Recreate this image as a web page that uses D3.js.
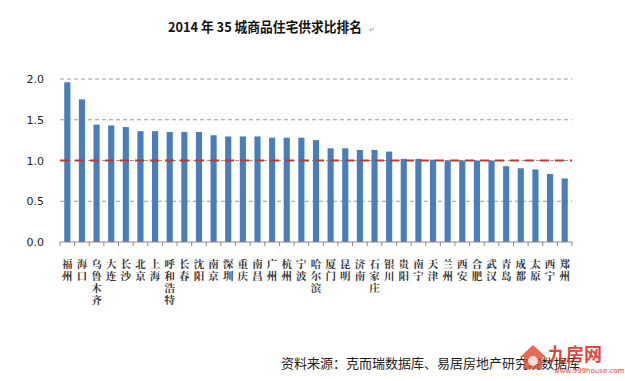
<!DOCTYPE html>
<html>
<head>
<meta charset="utf-8">
<script src="https://cdn.jsdelivr.net/npm/d3@7"></script>
<style>
  body { margin: 0; background: #fff; }
  svg { display: block; }
</style>
</head>
<body>
<div id="container"></div>
<script>
// 35 城 名称与供求比
const cities = ["福州", "海口", "乌鲁木齐", "大连", "长沙", "北京", "上海", "呼和浩特", "长春", "沈阳",
  "南京", "深圳", "重庆", "南昌", "广州", "杭州", "宁波", "哈尔滨", "厦门", "昆明",
  "济南", "石家庄", "银川", "贵阳", "南宁", "天津", "兰州", "西安", "合肥", "武汉",
  "青岛", "成都", "太原", "西宁", "郑州"];
const ratios = [1.96, 1.75, 1.44, 1.43, 1.41, 1.36, 1.36, 1.35, 1.35, 1.35,
  1.31, 1.295, 1.295, 1.295, 1.28, 1.28, 1.28, 1.25, 1.15, 1.15,
  1.13, 1.13, 1.11, 1.02, 1.02, 1.01, 1.0, 1.0, 1.0, 1.0,
  0.93, 0.905, 0.89, 0.835, 0.78];
const yTicks = [0, 0.5, 1.0, 1.5, 2.0];
const baseline = 1.0; // 供求平衡线

const width = 625, height = 381;
const margin = { top: 79, right: 53, bottom: 139, left: 60 };

const svg = d3.select("#container").append("svg")
  .attr("width", width)
  .attr("height", height);

const x = d3.scaleBand()
  .domain(cities)
  .range([margin.left, width - margin.right])
  .paddingInner(0.58)
  .paddingOuter(0.29);

const y = d3.scaleLinear()
  .domain([0, 2])
  .range([height - margin.bottom, margin.top]);

// 标题
svg.append("text")
  .attr("x", 168)
  .attr("y", 32)
  .attr("font-family", "'Noto Sans CJK SC', sans-serif")
  .attr("font-size", 13.5)
  .attr("font-weight", "bold")
  .attr("fill", "#111")
  .attr("textLength", 194)
  .attr("lengthAdjust", "spacingAndGlyphs")
  .text("2014 年 35 城商品住宅供求比排名");
svg.append("text")
  .attr("x", 369)
  .attr("y", 32)
  .attr("font-family", "'DejaVu Sans', sans-serif")
  .attr("font-size", 7)
  .attr("fill", "#999")
  .text("↵");

// 网格线
svg.append("g")
  .selectAll("line")
  .data(yTicks.filter(d => d > 0))
  .join("line")
  .attr("x1", margin.left)
  .attr("x2", width - margin.right)
  .attr("y1", d => y(d))
  .attr("y2", d => y(d))
  .attr("stroke", "#999")
  .attr("stroke-width", 1)
  .attr("stroke-dasharray", "4,3");

// y 轴刻度
svg.append("g")
  .attr("transform", `translate(${margin.left},0)`)
  .call(d3.axisLeft(y).tickValues(yTicks).tickFormat(d3.format(".1f")).tickSize(0).tickPadding(16))
  .call(g => g.select(".domain").remove())
  .call(g => g.selectAll("text")
    .attr("font-family", "'DejaVu Sans', sans-serif")
    .attr("font-size", 11)
    .attr("fill", "#222"));

// 柱子
svg.append("g")
  .selectAll("rect")
  .data(cities)
  .join("rect")
  .attr("x", d => x(d))
  .attr("width", x.bandwidth())
  .attr("y", (d, i) => y(ratios[i]))
  .attr("height", (d, i) => y(0) - y(ratios[i]))
  .attr("fill", "#4a7ebb");

// 供求比 1.0 红色虚线
svg.append("line")
  .attr("x1", margin.left)
  .attr("x2", width - margin.right)
  .attr("y1", y(baseline))
  .attr("y2", y(baseline))
  .attr("stroke", "#c0392b")
  .attr("stroke-width", 2)
  .attr("stroke-dasharray", "9,6");

// x 轴线与刻度
const step = x.step();
const xAxis = svg.append("g");
xAxis.append("line")
  .attr("x1", margin.left)
  .attr("x2", width - margin.right)
  .attr("y1", y(0))
  .attr("y2", y(0))
  .attr("stroke", "#888");
xAxis.selectAll("line.tick")
  .data(d3.range(cities.length + 1))
  .join("line")
  .attr("class", "tick")
  .attr("x1", i => margin.left + i * step)
  .attr("x2", i => margin.left + i * step)
  .attr("y1", y(0))
  .attr("y2", y(0) + 4)
  .attr("stroke", "#888");

// 竖排城市名（每字一行）
const labels = svg.append("g")
  .attr("font-family", "'Noto Serif CJK SC', 'Noto Sans CJK SC', serif")
  .attr("font-size", 10.5)
  .attr("font-weight", "bold")
  .attr("fill", "#333")
  .selectAll("text")
  .data(cities)
  .join("text")
  .attr("text-anchor", "middle");
labels.selectAll("tspan")
  .data(d => Array.from(d))
  .join("tspan")
  .attr("x", function () { return x(this.parentNode.__data__) + x.bandwidth() / 2; })
  .attr("y", (c, i) => y(0) + 26 + i * 12)
  .text(c => c);

// 资料来源
svg.append("text")
  .attr("x", 281)
  .attr("y", 368)
  .attr("font-family", "'Noto Sans CJK SC', sans-serif")
  .attr("font-size", 13)
  .attr("fill", "#222")
  .text("资料来源：克而瑞数据库、易居房地产研究院数据库");

// 水印
const logo = svg.append("g").attr("transform", "translate(518,343)");
logo.append("path")
  .attr("d", "M2,14 L15,2 L28,14 L24,14 L24,26 L6,26 L6,14 Z")
  .attr("fill", "#e0452a")
  .attr("opacity", 0.8);
logo.append("circle")
  .attr("cx", 15).attr("cy", 18).attr("r", 5)
  .attr("fill", "#fff").attr("opacity", 0.8);
logo.append("text")
  .attr("x", 30).attr("y", 18)
  .attr("font-family", "'Noto Sans CJK SC', sans-serif")
  .attr("font-size", 18)
  .attr("font-weight", "bold")
  .attr("fill", "#d8342a")
  .attr("opacity", 0.9)
  .text("九房网");
logo.append("text")
  .attr("x", 36).attr("y", 30)
  .attr("font-family", "'DejaVu Sans', sans-serif")
  .attr("font-size", 7)
  .attr("fill", "#d8342a")
  .attr("opacity", 0.9)
  .text("www.999house.com");
</script>
</body>
</html>
